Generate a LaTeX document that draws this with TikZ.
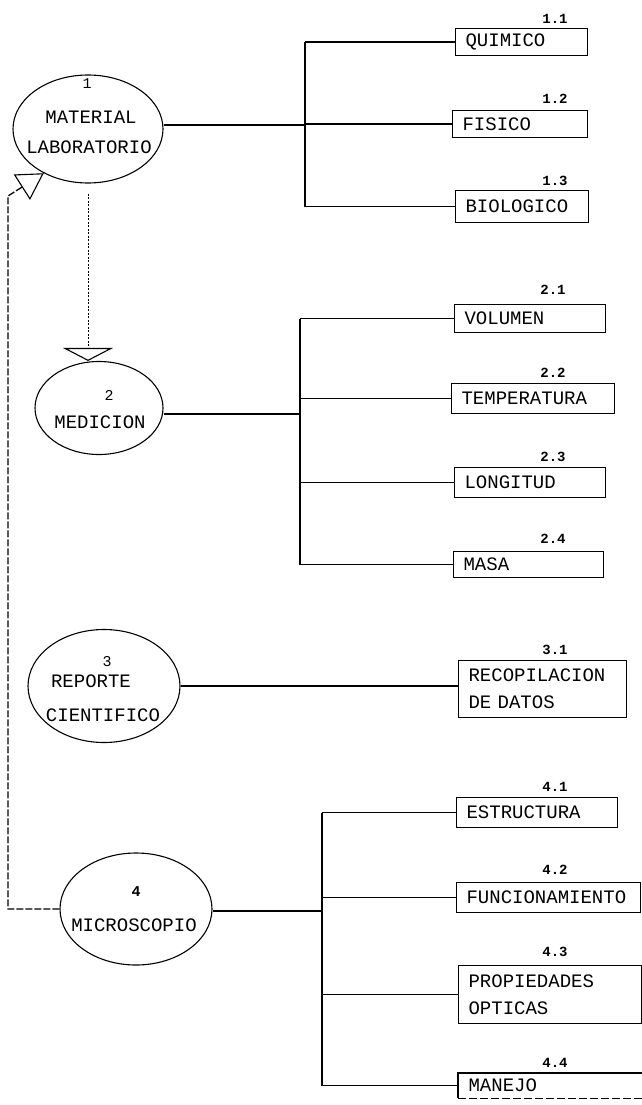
\documentclass[tikz,border=0pt]{standalone}
\usepackage{fontspec}
\setmainfont{Liberation Mono}
\usetikzlibrary{arrows.meta,shapes.geometric}
\tikzset{
  proc/.style={draw, ellipse, line width=1.1pt, inner sep=0pt},
  ptext/.style={font=\fontsize{19}{22}\selectfont, inner sep=0pt},
  pnum/.style={font=\fontsize{15}{18}\selectfont, inner sep=0pt},
  item/.style={draw, line width=1.1pt, rectangle, anchor=north west, inner xsep=10pt, inner ysep=0pt, align=left, font=\fontsize{19}{27}\selectfont},
  inum/.style={font=\bfseries\fontsize{14}{16}\selectfont, inner sep=0pt},
  link/.style={line width=1.1pt},
}
\begin{document}
\begin{tikzpicture}[x=1pt,y=-1pt]
\useasboundingbox (0,0) rectangle (641,1105);

% processes
\node[proc, minimum width=150pt, minimum height=108pt] (e1) at (88,129) {};
\node[pnum] (t1n) at (87,84) {1};
\node[ptext] (t1a) at (91,117) {MATERIAL};
\node[ptext] (t1b) at (89,147) {LABORATORIO};

\node[proc, minimum width=128pt, minimum height=93pt] (e2) at (99,408) {};
\node[pnum] (t2n) at (109,395) {2};
\node[ptext] (t2a) at (100,422) {MEDICION};

\node[proc, minimum width=152pt, minimum height=113pt] (e3) at (104,686) {};
\node[pnum] (t3n) at (107,662) {3};
\node[ptext] (t3a) at (91,681) {REPORTE};
\node[ptext] (t3b) at (103,715) {CIENTIFICO};

\node[proc, minimum width=152pt, minimum height=112pt] (e4) at (136,909) {};
\node[pnum, font=\bfseries\fontsize{15}{18}\selectfont] (t4n) at (136,892) {4};
\node[ptext] (t4a) at (134,925) {MICROSCOPIO};

% items
\node[item, minimum width=132pt, minimum height=27pt, text width=112pt] (b11) at (455,28) {QUIMICO};
\node[item, minimum width=135pt, minimum height=27pt, text width=115pt] (b12) at (452,110) {FISICO};
\node[item, minimum width=133pt, minimum height=32pt, text width=113pt] (b13) at (455,190) {BIOLOGICO};

\node[item, minimum width=151pt, minimum height=28pt, text width=131pt] (b21) at (454,304) {VOLUMEN};
\node[item, minimum width=163pt, minimum height=30pt, text width=143pt] (b22) at (451,383) {TEMPERATURA};
\node[item, minimum width=151pt, minimum height=30pt, text width=131pt] (b23) at (454,467) {LONGITUD};
\node[item, minimum width=150pt, minimum height=26pt, text width=130pt] (b24) at (453,551) {MASA};

\node[item, minimum width=168pt, minimum height=57pt, text width=148pt] (b31) at (458,660) {RECOPILACION\\DE DATOS};

\node[item, minimum width=161pt, minimum height=30pt, text width=141pt] (b41) at (456,797) {ESTRUCTURA};
\node[item, minimum width=184pt, minimum height=30pt, text width=164pt] (b42) at (456,882) {FUNCIONAMIENTO};
\node[item, minimum width=183pt, minimum height=58pt, text width=163pt] (b43) at (458,965) {PROPIEDADES\\OPTICAS};
\node[item, draw=none, minimum width=200pt, minimum height=24pt, text width=180pt] (b44) at (458,1073) {MANEJO};
\draw[link] (b44.south west) -- (b44.north west) -- (b44.north east);
\draw[link, dash pattern=on 8pt off 3pt] (b44.south west) -- (b44.south east);

% numbers
\node[inum] (n11) at (555,19) {1.1};
\node[inum] (n12) at (555,99) {1.2};
\node[inum] (n13) at (555,181) {1.3};
\node[inum] (n21) at (553,290) {2.1};
\node[inum] (n22) at (553,373) {2.2};
\node[inum] (n23) at (553,457) {2.3};
\node[inum] (n24) at (553,539) {2.4};
\node[inum] (n31) at (555,650) {3.1};
\node[inum] (n41) at (555,787) {4.1};
\node[inum] (n42) at (555,870) {4.2};
\node[inum] (n43) at (555,952) {4.3};
\node[inum] (n44) at (555,1063) {4.4};

% bracket 1
\coordinate (j1) at (305,125);
\draw[link] (e1.east |- j1) -- (j1);
\draw[link] (b11.west -| j1) -- (b13.west -| j1);
\draw[link] (b11.west -| j1) -- (b11.west);
\draw[link] (b12.west -| j1) -- (b12.west);
\draw[link] (b13.west -| j1) -- (b13.west);

% bracket 2
\coordinate (j2) at (300,414);
\draw[link] (e2.east |- j2) -- (j2);
\draw[link] (b21.west -| j2) -- (b24.west -| j2);
\draw[link] (b21.west -| j2) -- (b21.west);
\draw[link] (b22.west -| j2) -- (b22.west);
\draw[link] (b23.west -| j2) -- (b23.west);
\draw[link] (b24.west -| j2) -- (b24.west);

% bracket 3
\draw[link] (e3.east) -- (e3.east -| b31.west);

% bracket 4
\coordinate (j4) at (322,911);
\draw[link] (e4.east |- j4) -- (j4);
\draw[link] (b41.west -| j4) -- (b44.west -| j4);
\draw[link] (b41.west -| j4) -- (b41.west);
\draw[link] (b42.west -| j4) -- (b42.west);
\draw[link] (b43.west -| j4) -- (b43.west);
\draw[link] (b44.west -| j4) -- (b44.west);

% flow 1 -> 2
\draw[line width=0.7pt, dash pattern=on 2pt off 1.5pt,
  -{Triangle[open, width=50pt, length=13pt, line width=1.1pt]}]
  ([yshift=-10pt]e1.south) -- (e1.south |- e2.north);

% feedback 4 -> 1
\coordinate (f1) at (8,909);
\coordinate (f2) at (8,196);
\draw[line width=1.3pt, dash pattern=on 7pt off 2pt,
  -{Triangle[open, width=30pt, length=26pt, line width=1.1pt]}]
  (e4.west) -- (f1) -- (f2) -- (e1.225);
\end{tikzpicture}
\end{document}
